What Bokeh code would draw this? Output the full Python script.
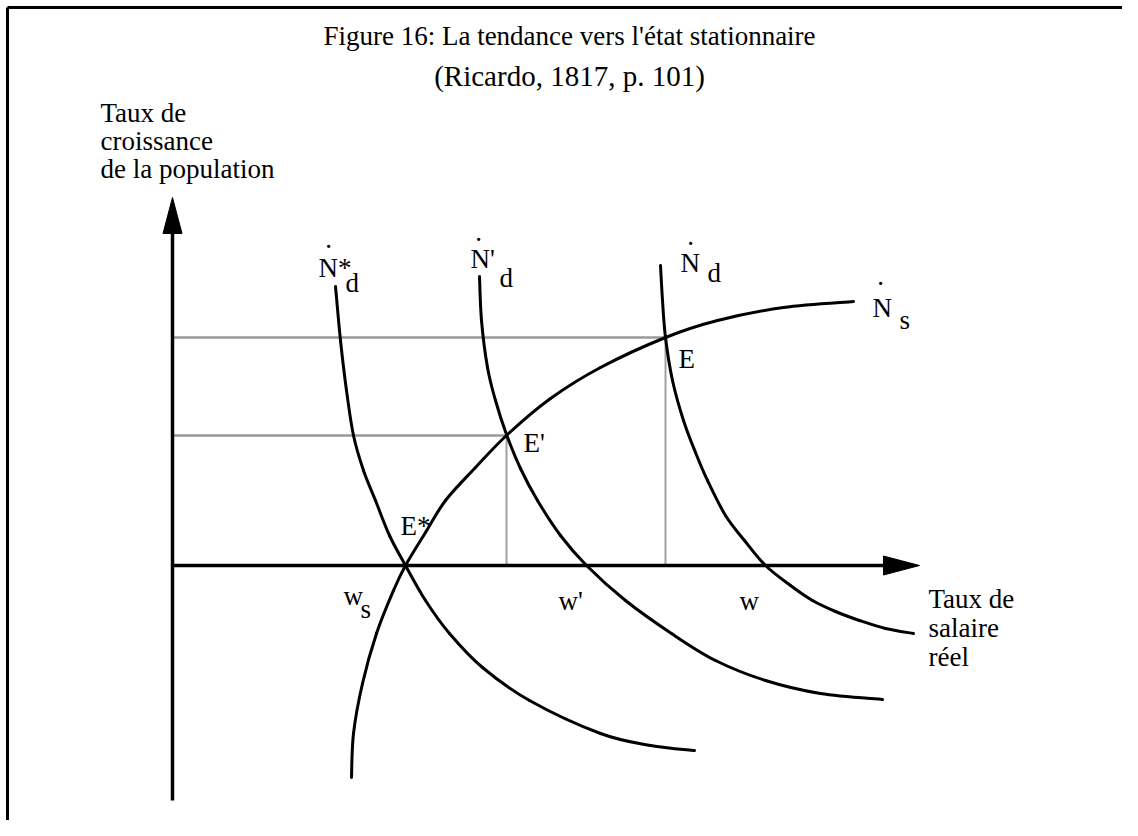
from bokeh.plotting import figure
from bokeh.models import Range1d
from bokeh.embed import file_html
from bokeh.resources import INLINE
from bokeh.core.properties import value

# ---- diagram data (reference pixel coordinates, y grows downward) ----
origin_x, origin_y = 172, 565
y_axis_top, y_axis_bottom = 197, 800
x_axis_right = 919
arrow_len, arrow_half = 36, 9.5
border_x, border_y = 7, 7

# demand curves
nstar_d_x = [335, 340, 346, 353, 363, 375, 389, 405, 425, 449, 482, 529, 600, 650, 694]
nstar_d_y = [286, 340, 390, 435, 470, 500, 535, 565, 600, 633, 667, 700, 733, 745, 750]

nprime_d_x = [479, 481, 487, 495, 506, 520, 537, 560, 586, 625, 671, 715, 765, 820, 882]
nprime_d_y = [276, 320, 367, 400, 434, 468, 500, 535, 565, 600, 633, 660, 680, 693, 699]

n_d_x = [660, 662, 665, 672, 683, 695, 707, 725, 744, 765, 790, 812, 835, 859, 885, 913]
n_d_y = [265, 300, 337, 380, 420, 452, 480, 515, 540, 565, 585, 600, 611, 620, 628, 633]

# supply curve
n_s_x = [351, 353, 362, 376, 393, 405, 425, 445, 475, 507, 550, 600, 665, 717, 783, 853]
n_s_y = [777, 733, 683, 633, 590, 565, 532, 500, 467, 434, 398, 367, 337, 320, 307, 301]

# equilibria
eq_x = [405, 506, 665]
eq_y = [565, 435, 337]

title_lines = ["Figure 16: La tendance vers l'état stationnaire", "(Ricardo, 1817, p. 101)"]
title_y = [35, 75]
ylabel_lines = ["Taux de", "croissance", "de la population"]
ylabel_y = [112, 140, 168]
xlabel_lines = ["Taux de", "salaire", "réel"]
xlabel_y = [598, 627, 656]

curve_names = ["N*", "N'", "N", "N"]
curve_name_x = [318, 470, 680, 872]
curve_name_y = [267, 258, 262, 307]
curve_dot_x = [328, 478, 690, 880]
curve_dot_y = [236, 229, 233, 273]
curve_sub = ["d", "d", "d", "s"]
curve_sub_x = [345, 499, 707, 899]
curve_sub_y = [282, 277, 272, 319]

eq_names = ["E*", "E'", "E"]
eq_label_x = [400, 523, 678]
eq_label_y = [525, 442, 358]

wage_names = ["w", "w'", "w"]
wage_x = [343, 558, 739]
wage_y = [595, 600, 600]
wage_sub = ["s"]
wage_sub_x = [360]
wage_sub_y = [608]

W, H = 1122, 820
p = figure(width=W, height=H, x_range=Range1d(0, W), y_range=Range1d(H, 0),
           output_backend="svg", toolbar_location=None, min_border=0)
p.axis.visible = False
p.grid.visible = False
p.outline_line_color = None
p.background_fill_color = "white"

# frame border (top and left visible)
p.line([border_x, border_x], [H + 5, border_y], line_color="black", line_width=3)
p.line([border_x, W + 5], [border_y, border_y], line_color="black", line_width=3)

# dotted guides
for ex, ey in zip(eq_x[1:], eq_y[1:]):
    p.line([origin_x, ex], [ey, ey], line_color="#333333", line_width=2.5, line_dash="1 1")
    p.line([ex, ex], [ey, origin_y], line_color="#444444", line_width=2, line_dash="1 1")

# axes
p.line([origin_x, origin_x], [y_axis_bottom, y_axis_top + arrow_len], line_color="black", line_width=3.5)
p.patch([origin_x - arrow_half, origin_x, origin_x + arrow_half],
        [y_axis_top + arrow_len, y_axis_top, y_axis_top + arrow_len], color="black")
p.line([origin_x, x_axis_right - arrow_len], [origin_y, origin_y], line_color="black", line_width=3.5)
p.patch([x_axis_right - arrow_len, x_axis_right, x_axis_right - arrow_len],
        [origin_y - arrow_half, origin_y, origin_y + arrow_half], color="black")


def smooth_segments(xs, ys):
    """Catmull-Rom path through the read points, expressed as cubic Bezier segments."""
    n = len(xs)
    out = {k: [] for k in ("x0", "y0", "x1", "y1", "cx0", "cy0", "cx1", "cy1")}
    for i in range(n - 1):
        a = max(i - 1, 0)
        b = min(i + 2, n - 1)
        out["x0"].append(xs[i]); out["y0"].append(ys[i])
        out["x1"].append(xs[i + 1]); out["y1"].append(ys[i + 1])
        out["cx0"].append(xs[i] + (xs[i + 1] - xs[a]) / 6)
        out["cy0"].append(ys[i] + (ys[i + 1] - ys[a]) / 6)
        out["cx1"].append(xs[i + 1] - (xs[b] - xs[i]) / 6)
        out["cy1"].append(ys[i + 1] - (ys[b] - ys[i]) / 6)
    return out


for xs, ys in [(nstar_d_x, nstar_d_y), (nprime_d_x, nprime_d_y), (n_d_x, n_d_y), (n_s_x, n_s_y)]:
    seg = smooth_segments(xs, ys)
    p.bezier(line_color="black", line_width=3, line_cap="round", **seg)

serif = value("Liberation Serif")
FS = "27px"

p.text(x=[569], y=title_y[:1], text=title_lines[:1], text_font=serif, text_font_size="27px",
       text_align="center", text_baseline="alphabetic", text_color="black")
p.text(x=[569], y=title_y[1:], text=title_lines[1:], text_font=serif, text_font_size="29px",
       text_align="center", text_baseline="alphabetic", text_color="black")
p.text(x=[100] * 3, y=ylabel_y, text=ylabel_lines, text_font=serif, text_font_size=FS,
       text_align="left", text_baseline="alphabetic", text_color="black")
p.text(x=[928] * 3, y=xlabel_y, text=xlabel_lines, text_font=serif, text_font_size=FS,
       text_align="left", text_baseline="alphabetic", text_color="black")
p.text(x=curve_name_x, y=curve_name_y, text=curve_names, text_font=serif, text_font_size=FS,
       text_align="left", text_baseline="alphabetic", text_color="black")
p.text(x=curve_dot_x, y=[v + 2 for v in curve_dot_y], text=["."] * 4, text_font=serif, text_font_size=FS,
       text_align="center", text_baseline="alphabetic", text_color="black")
p.text(x=curve_sub_x, y=curve_sub_y, text=curve_sub, text_font=serif, text_font_size=FS,
       text_align="left", text_baseline="alphabetic", text_color="black")
p.text(x=eq_label_x, y=eq_label_y, text=eq_names, text_font=serif, text_font_size=FS,
       text_align="left", text_baseline="alphabetic", text_color="black")
p.text(x=wage_x, y=wage_y, text=wage_names, text_font=serif, text_font_size=FS,
       text_align="left", text_baseline="alphabetic", text_color="black")
p.text(x=wage_sub_x, y=wage_sub_y, text=wage_sub, text_font=serif, text_font_size=FS,
       text_align="left", text_baseline="alphabetic", text_color="black")

open("out.html", "w").write(file_html(p, INLINE))
